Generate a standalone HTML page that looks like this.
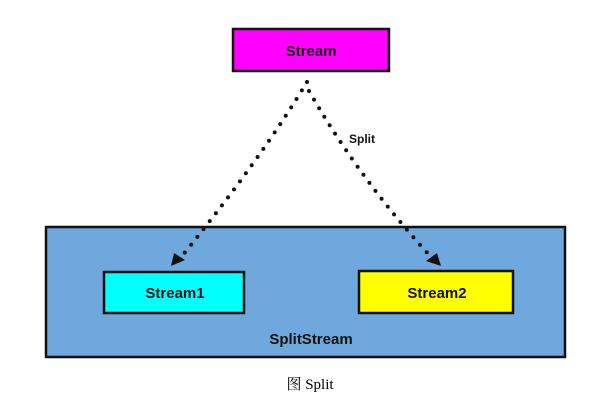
<!DOCTYPE html>
<html><head><meta charset="utf-8"><style>
html,body{margin:0;padding:0;background:#fff;width:616px;height:401px;overflow:hidden}
svg{display:block}
.t{font-family:"Liberation Sans","DejaVu Sans",sans-serif;font-weight:bold;fill:#111}
</style></head><body>
<svg width="616" height="401" viewBox="0 0 616 401" xmlns="http://www.w3.org/2000/svg">
<rect x="0" y="0" width="616" height="401" fill="#fff"/>
<rect x="46" y="227" width="519" height="130" fill="#6fa8dc" stroke="#111" stroke-width="2.5"/>
<rect x="233" y="29" width="156" height="42" fill="#ff00ff" stroke="#111" stroke-width="2.5"/>
<text x="311" y="56" class="t" font-size="15" text-anchor="middle">Stream</text>
<rect x="104" y="272" width="140" height="41" fill="#00ffff" stroke="#111" stroke-width="2.5"/>
<text x="175" y="298" class="t" font-size="15" text-anchor="middle">Stream1</text>
<rect x="359" y="271" width="154" height="42" fill="#ffff00" stroke="#111" stroke-width="2.5"/>
<text x="437" y="298" class="t" font-size="15" text-anchor="middle">Stream2</text>
<text x="311" y="344" class="t" font-size="15" text-anchor="middle">SplitStream</text>
<text x="362" y="143" class="t" font-size="12" text-anchor="middle">Split</text>
<path d="M307 82 Q260 160 182 256" fill="none" stroke="#111" stroke-width="4" stroke-linecap="round" stroke-dasharray="0 10"/>
<path d="M309 91 Q360 180 432 258" fill="none" stroke="#111" stroke-width="4" stroke-linecap="round" stroke-dasharray="0 10"/>
<polygon points="171,266 174,253 185,260" fill="#111"/>
<polygon points="441,266 437,253 426,261" fill="#111"/>
<text x="310" y="389" font-family="'Liberation Serif','Noto Serif CJK SC',serif" font-size="15" text-anchor="middle" fill="#000">图 Split</text>
</svg>
</body></html>
